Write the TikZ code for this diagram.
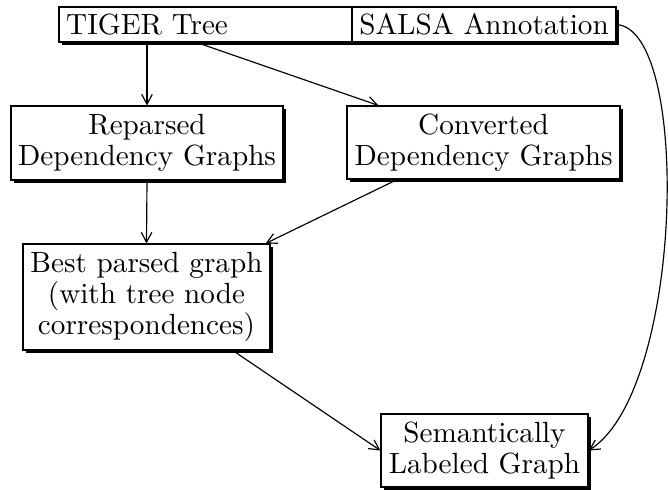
\documentclass[tikz,border=0pt]{standalone}
\usepackage{xcolor}
\usetikzlibrary{arrows.meta,shadows}
\begin{document}
\begin{tikzpicture}[x=0.3425pt,y=-0.3425pt]
	\tikzstyle{stage} = [draw, fill=white, line width=0.4pt, align=center, inner sep=0pt, font=\fontsize{10}{10.5}\selectfont, drop shadow={shadow xshift=1.1pt, shadow yshift=-1.1pt, fill=black, opacity=1}]
	\tikzstyle{source} = [stage, align=left, inner xsep=2.5pt, minimum height=12pt]
	\tikzset{edge/.style = {line width=0.4pt, -{Straight Barb[length=3.4pt,width=3.6pt]}}}
	\useasboundingbox (0,0) rectangle (668,489);
	
	\node[source, text width=95.4pt](tiger) at (205.5,24.5) {\mbox{TIGER Tree}};
	\node[source, text width=85.4pt](salsa) at (484,24.5) {\mbox{SALSA Annotation}};
	
	\node[stage, minimum width=93.2pt, minimum height=25.3pt](reparsed) at (147,143) {Reparsed\\Dependency Graphs};
	\node[stage, minimum width=93.5pt, minimum height=25pt](converted) at (483.5,142.5) {Converted\\Dependency Graphs};
	\node[stage, minimum width=84.6pt, minimum height=36.3pt](best) at (146.5,297) {Best parsed graph\\(with tree node\\correspondences)};
	\node[stage, minimum width=70.9pt, minimum height=25pt](labeled) at (484.5,450.5) {Semantically\\Labeled Graph};
	
	\draw[edge](reparsed.north |- tiger.south) to (reparsed.north);
	\draw[edge]([xshift=-2.9pt]tiger.south) to ([xshift=-36pt]converted.north);
	\draw[edge](reparsed.south) to (best.north);
	\draw[edge]([xshift=-29.6pt]converted.south) to ([xshift=-1.7pt]best.north east);
	\draw[edge]([xshift=29.6pt]best.south) to (labeled.west);
	\draw[edge](salsa.east) .. controls +(75,5) and +(95,-60) .. (labeled.east);
	
\end{tikzpicture}
\end{document}
